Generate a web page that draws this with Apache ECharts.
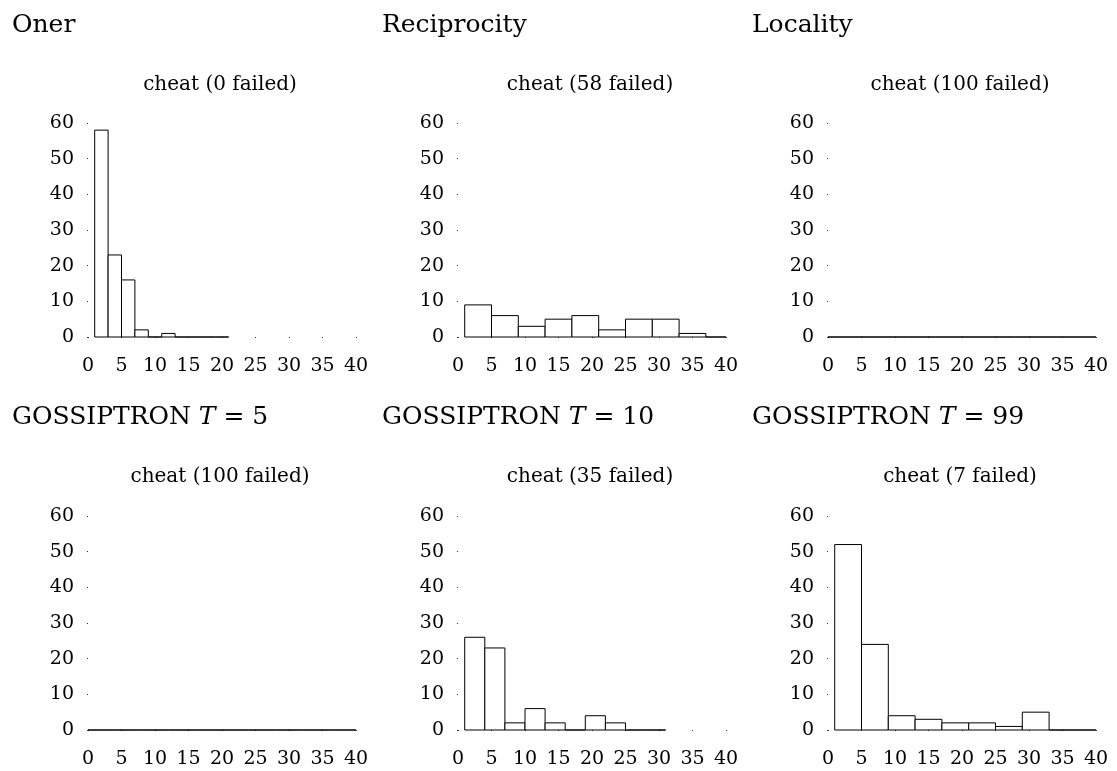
<!DOCTYPE html>
<html>
<head>
<meta charset="utf-8">
<script src="https://cdn.jsdelivr.net/npm/echarts@6/dist/echarts.min.js"></script>
<style>
  html, body { margin: 0; padding: 0; background: #fff; }
  #chart { width: 1117px; height: 771px; }
</style>
</head>
<body>
<div id="chart"></div>
<script>
// ---- data ----
const panelTitles = ['Oner', 'Reciprocity', 'Locality',
  'GOSSIPTRON {i|T} = 5', 'GOSSIPTRON {i|T} = 10', 'GOSSIPTRON {i|T} = 99'];
const failedCounts = [0, 58, 100, 100, 35, 7];
const binStarts = [1, 1, 0, 0, 1, 1];
const binWidths = [2, 4, 4, 4, 3, 4];
const countsOner = [58, 23, 16, 2, 0, 1, 0, 0, 0, 0];
const countsReciprocity = [9, 6, 3, 5, 6, 2, 5, 5, 1, 0];
const countsLocality = [0, 0, 0, 0, 0, 0, 0, 0, 0, 0];
const countsG5 = [0, 0, 0, 0, 0, 0, 0, 0, 0, 0];
const countsG10 = [26, 23, 2, 6, 2, 0, 4, 2, 0, 0];
const countsG99 = [52, 24, 4, 3, 2, 2, 1, 5, 0, 0];
const allCounts = [countsOner, countsReciprocity, countsLocality, countsG5, countsG10, countsG99];
const xMin = 0, xMax = 40, xStep = 5;
const yMin = 0, yMax = 60, yStep = 10;

// ---- chart ----
const FONT = 'DejaVu Serif';
const TXT = '#000';
const chart = echarts.init(document.getElementById('chart'), null, { renderer: 'canvas' });

const grids = [], xAxes = [], yAxes = [], series = [], titles = [];
const GL = 88, GSTEP = 370, GW = 268, GH = 214;
const rowTops = [123, 516];
const titleTops = [13, 405];
const subTops = [75, 467];

function renderItem(params, api) {
  const cs = params.coordSys;
  const x0 = api.value(0), x1 = api.value(1), v = api.value(2);
  const pTop = api.coord([x0, v]);
  const pEnd = api.coord([x1, 0]);
  const left = Math.max(pTop[0], cs.x);
  const right = Math.min(pEnd[0], cs.x + cs.width);
  return {
    type: 'rect',
    shape: { x: left, y: pTop[1], width: right - left, height: pEnd[1] - pTop[1] },
    style: { fill: '#fff', stroke: '#000', lineWidth: 1 }
  };
}

for (let i = 0; i < 6; i++) {
  const col = i % 3, row = Math.floor(i / 3);
  const left = GL + GSTEP * col;
  grids.push({ left: left, top: rowTops[row], width: GW, height: GH, containLabel: false });
  xAxes.push({
    type: 'value', gridIndex: i, min: xMin, max: xMax, interval: xStep,
    axisLine: { show: false },
    axisTick: { show: true, length: 1, lineStyle: { color: '#333', width: 1 } },
    splitLine: { show: false },
    axisLabel: { fontFamily: FONT, fontSize: 19, color: TXT, margin: 20 }
  });
  yAxes.push({
    type: 'value', gridIndex: i, min: yMin, max: yMax, interval: yStep,
    axisLine: { show: false },
    axisTick: { show: true, length: 1, lineStyle: { color: '#333', width: 1 } },
    splitLine: { show: false },
    axisLabel: { fontFamily: FONT, fontSize: 19, color: TXT, margin: 14 }
  });
  const data = allCounts[i].map((c, k) => [
    binStarts[i] + k * binWidths[i],
    binStarts[i] + (k + 1) * binWidths[i],
    c
  ]);
  series.push({
    type: 'custom', xAxisIndex: i, yAxisIndex: i,
    renderItem: renderItem, data: data, silent: true,
    encode: { x: [0, 1], y: 2 }
  });
  titles.push({
    text: panelTitles[i], left: 12 + GSTEP * col, top: titleTops[row], padding: 0,
    textStyle: {
      fontFamily: FONT, fontSize: 25, fontWeight: 'normal', color: TXT,
      rich: { i: { fontFamily: FONT, fontSize: 25, fontStyle: 'italic', color: TXT } }
    }
  });
  titles.push({
    text: 'cheat (' + failedCounts[i] + ' failed)',
    left: left + GW / 2 - 2, top: subTops[row], textAlign: 'center', padding: 0,
    textStyle: { fontFamily: FONT, fontSize: 20, fontWeight: 'normal', color: TXT }
  });
}

chart.setOption({
  animation: false,
  backgroundColor: '#fff',
  title: titles,
  grid: grids,
  xAxis: xAxes,
  yAxis: yAxes,
  series: series
});
</script>
</body>
</html>
